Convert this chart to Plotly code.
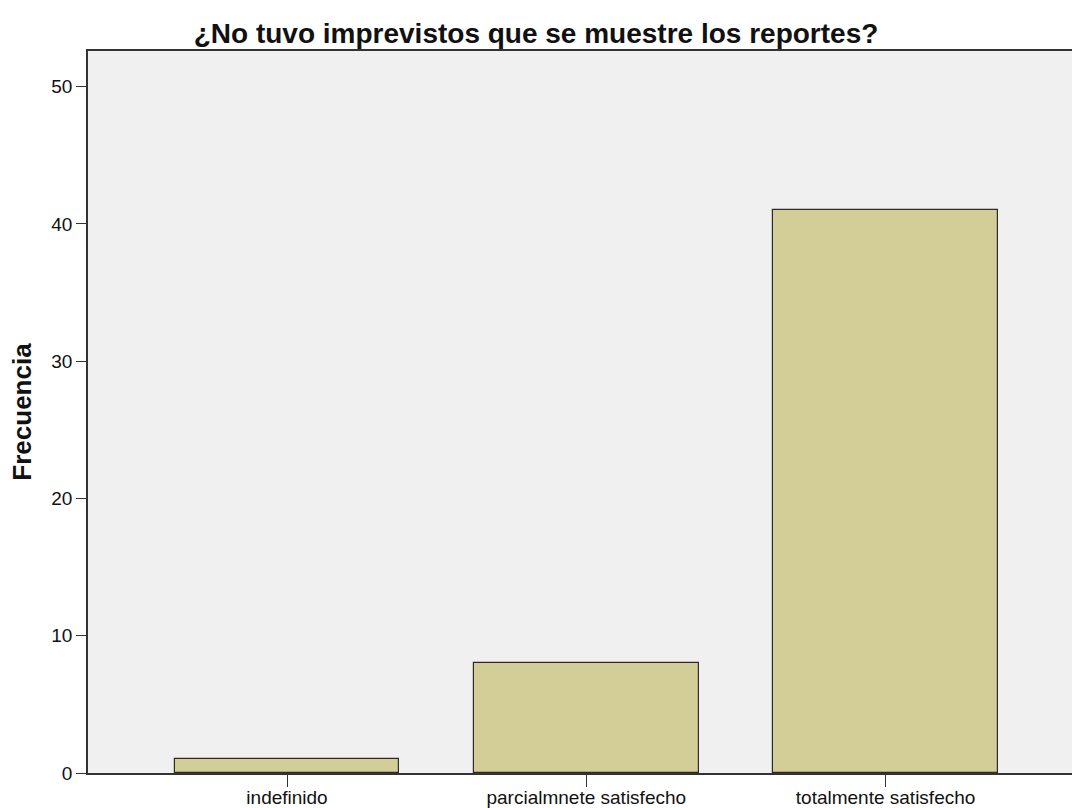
import plotly.graph_objects as go

# Datos
categorias = ["indefinido", "parcialmnete satisfecho", "totalmente satisfecho"]
frecuencias = [1, 8, 41]

titulo = "¿No tuvo imprevistos que se muestre los reportes?"

fig = go.Figure()
fig.add_trace(
    go.Bar(
        x=categorias,
        y=frecuencias,
        width=0.75,
        marker=dict(color="#D3CD97", line=dict(color="#2b2b2b", width=1.2)),
    )
)

fig.update_layout(
    width=1072,
    height=808,
    title=dict(
        text=titulo,
        x=0.5,
        xanchor="center",
        y=1 - 33 / 808,
        yanchor="middle",
        font=dict(family="Liberation Sans", size=28, color="#111111", weight="bold"),
    ),
    font=dict(family="Liberation Sans", size=19, color="#111111"),
    plot_bgcolor="#F0F0F0",
    paper_bgcolor="white",
    margin=dict(l=88, r=0, t=51, b=35),
    showlegend=False,
    bargap=0,
    xaxis=dict(
        range=[-0.665, 2.623],
        showline=True,
        linecolor="#333333",
        linewidth=1.5,
        mirror=True,
        ticks="outside",
        ticklen=12,
        tickcolor="#333333",
        showgrid=False,
        tickfont=dict(size=19),
        ticklabelstandoff=-6,
        automargin=False,
    ),
    yaxis=dict(
        range=[0, 52.6],
        tickvals=[0, 10, 20, 30, 40, 50],
        showline=True,
        linecolor="#333333",
        linewidth=1.5,
        ticks="outside",
        ticklen=10,
        tickcolor="#333333",
        showgrid=False,
        zeroline=False,
        tickfont=dict(size=19),
        automargin=False,
        title=dict(
            text="Frecuencia",
            font=dict(size=26, weight="bold"),
            standoff=12,
        ),
    ),
)

# quitar el margen por defecto del body para que la figura ocupe toda la ventana
fig.write_html(
    "out.html",
    config={"displayModeBar": False},
    post_script="document.body.style.margin='0px';",
)
